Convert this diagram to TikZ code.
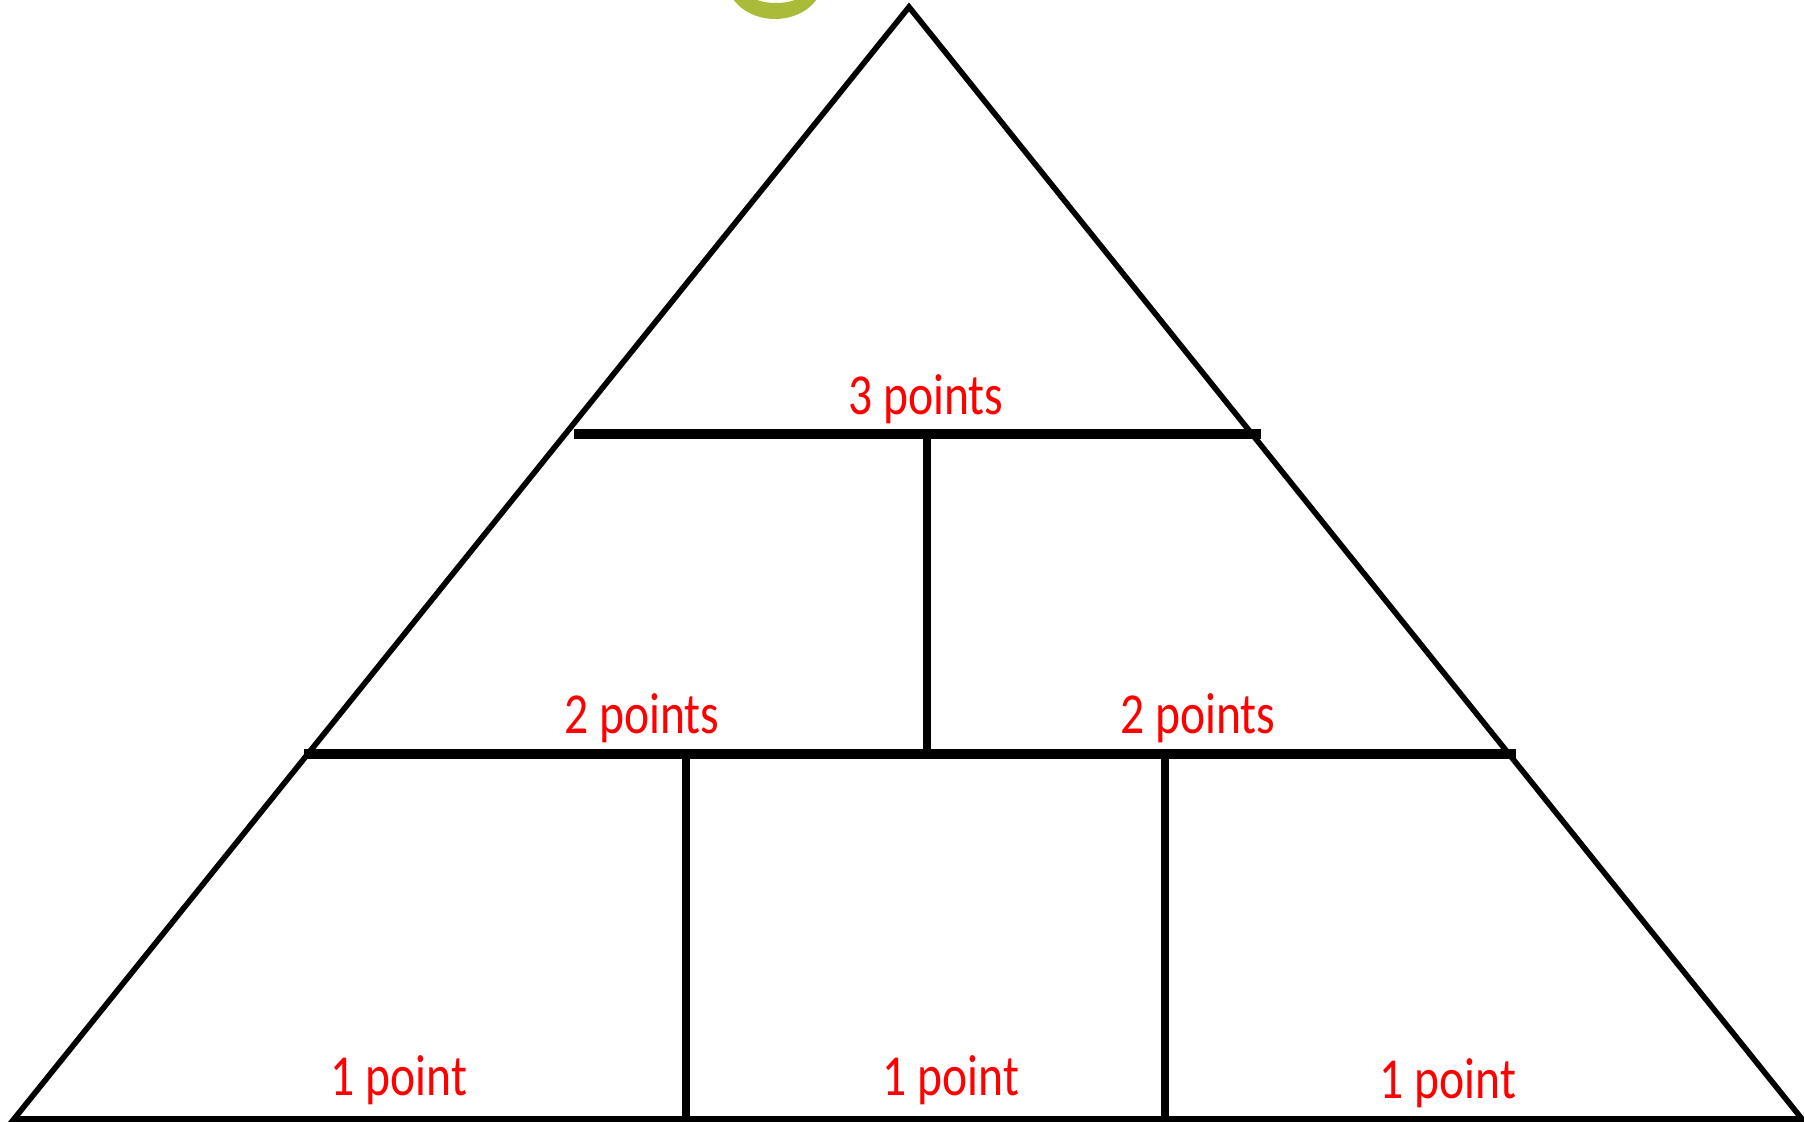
\documentclass[tikz,border=0pt]{standalone}
\usepackage{fontspec}
\newfontfamily\labelfont[FakeStretch=0.82]{Carlito}
\usetikzlibrary{positioning}
\definecolor{pointred}{RGB}{255,0,0}
\definecolor{leafgreen}{RGB}{170,187,57}
\tikzset{
  outline/.style={draw=black, line width=1.6pt, line join=miter},
  bar/.style={draw=black, line width=2.6pt},
  stem/.style={draw=black, line width=2.2pt},
  pointlabel/.style={
    anchor=base, inner sep=0pt,
    text=pointred,
    font=\labelfont\fontsize{16.5}{18}\selectfont
  },
}

\begin{document}
\begin{tikzpicture}[x=0.01cm, y=-0.01cm]
  \useasboundingbox (0,0) rectangle (1804,1121);
  \begin{scope}
    \clip (0,0) rectangle (1804,1121);
    \fill[leafgreen, even odd rule] (775,-20) ellipse [x radius=48, y radius=39]
      (776,-20) ellipse [x radius=38, y radius=23];
  \end{scope}

  \coordinate (apex) at (909,7);
  \coordinate (bl) at (14,1119);
  \coordinate (br) at (1802,1119);
  \coordinate (topL) at (574,434);
  \coordinate (topR) at (1261,434);
  \coordinate (topM) at (927,434);
  \coordinate (midL) at (304,754);
  \coordinate (midR) at (1516,754);
  \coordinate (midM) at (927,754);
  \coordinate (midA) at (686,754);
  \coordinate (midB) at (1165,754);
  \coordinate (botA) at (686,1121);
  \coordinate (botB) at (1165,1121);

  \draw[outline] (apex) -- (bl) -- (br) -- cycle;
  \draw[bar] (topL) -- (topR);
  \draw[bar] (midL) -- (midR);
  \draw[stem] (topM) -- (midM);
  \draw[stem] (midA) -- (botA);
  \draw[stem] (midB) -- (botB);

  \node[pointlabel] (three) at (926,414) {3 points};
  \node[pointlabel] (twoL) at (642,733) {2 points};
  \node[pointlabel] (twoR) at (1198,733) {2 points};
  \node[pointlabel] (oneA) at (399,1095) {1 point};
  \node[pointlabel] (oneB) at (951,1095) {1 point};
  \node[pointlabel] (oneC) at (1448,1098) {1 point};
\end{tikzpicture}
\end{document}
